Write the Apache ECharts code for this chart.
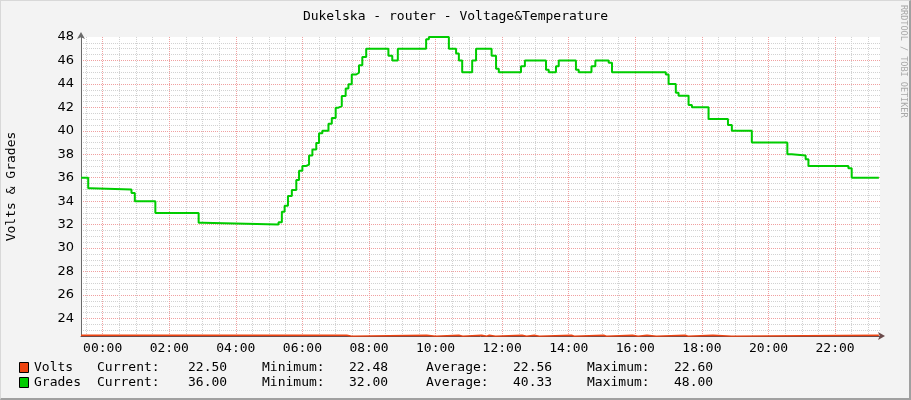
<!DOCTYPE html>
<html>
<head>
<meta charset="utf-8">
<script src="https://cdn.jsdelivr.net/npm/echarts@6/dist/echarts.min.js"></script>
<style>
  html, body { margin: 0; padding: 0; background: #f3f3f3; }
  #wrap { position: relative; width: 911px; height: 400px; }
  #chart { position: absolute; left: 0; top: 0; width: 911px; height: 400px; }
  #frame { position: absolute; left: 0; top: 0; width: 911px; height: 400px; box-sizing: border-box;
           border-top: 1px solid #d8d8d8; border-left: 1px solid #d8d8d8;
           border-right: 2px solid #a0a0a0; border-bottom: 2px solid #a0a0a0; pointer-events: none; }
</style>
</head>
<body>
<div id="wrap"><div id="chart"></div><div id="frame"></div></div>
<script>
// ---- data (minutes from midnight; negative = previous evening) ----
const gradesTime = [-39,-26,-22,52,58,95,173,180,317,323,328,334,341,349,354,360,367,372,378,385,390,396,407,413,420,425,431,438,443,449,457,462,468,475,515,522,532,583,588,624,637,642,648,666,673,701,709,714,754,761,799,804,817,822,853,858,881,888,912,918,1015,1020,1033,1038,1056,1062,1092,1127,1134,1170,1234,1242,1267,1272,1344,1350,1399];
const gradesValue = [36,35.1,35,34.7,34,33,32.15,32,32.2,33.1,33.6,34.45,34.95,35.8,36.6,37,37.12,37.9,38.4,38.96,39.8,40,40.6,41.1,41.97,42.1,42.96,43.6,43.96,44.8,44.95,45.6,46.3,47,46.4,46,47,47.8,48,47,46.6,46,45,46,47,46.4,45.3,45,45.5,46,45.2,45,45.5,46,45.2,45,45.5,46,45.8,45,44.8,44,43.25,43,42.2,42,41,40.5,40,39,38,37.9,37.57,37,36.8,36,36];
const voltsTime = [-39,440,449,584,600,642,649,683,692,697,708,756,764,778,787,845,850,903,908,955,965,981,998,1050,1055,1100,1134,1399];
const voltsValue = [22.56,22.48,22.56,22.48,22.56,22.48,22.56,22.48,22.56,22.48,22.56,22.48,22.56,22.48,22.56,22.48,22.56,22.48,22.56,22.48,22.56,22.48,22.56,22.48,22.56,22.48,22.56,22.5];

const seriesNames = ['Volts', 'Grades'];
const seriesColors = ['#ee4411', '#00cc00'];
const statLabels = ['Current:', 'Minimum:', 'Average:', 'Maximum:'];
const voltsStats = ['22.50', '22.48', '22.56', '22.60'];
const gradesStats = ['36.00', '32.00', '40.33', '48.00'];

const xMin = -39, xMax = 1401;
const yMin = 22.5, yMax = 48;

const FONT = "'DejaVu Sans Mono', monospace";
const chart = echarts.init(document.getElementById('chart'), null, { renderer: 'canvas' });

function pad(n) { return (n < 10 ? '0' : '') + n; }
function timeLabel(v) {
  if (Math.abs(v % 120) > 1e-6) return '';
  const h = ((Math.round(v / 60) % 24) + 24) % 24;
  return pad(h) + ':00';
}

// legend block built from arrays
const legendGraphics = [];
const statsRows = [voltsStats, gradesStats];
const labelX = [97, 262, 426, 587];
const valueX = [188, 349, 513, 674];
seriesNames.forEach(function (name, r) {
  const cy = 368 + r * 15;
  legendGraphics.push({ type: 'rect', shape: { x: 19.5, y: cy - 5.5, width: 9, height: 10 },
    style: { fill: seriesColors[r], stroke: '#000', lineWidth: 1 } });
  legendGraphics.push({ type: 'text', x: 34, y: cy, style: { text: name, font: '13px ' + FONT, fill: '#000', verticalAlign: 'middle' } });
  statLabels.forEach(function (lab, c) {
    legendGraphics.push({ type: 'text', x: labelX[c], y: cy, style: { text: lab, font: '13px ' + FONT, fill: '#000', verticalAlign: 'middle' } });
    legendGraphics.push({ type: 'text', x: valueX[c], y: cy, style: { text: statsRows[r][c], font: '13px ' + FONT, fill: '#000', verticalAlign: 'middle' } });
  });
});
legendGraphics.push({ type: 'text', x: 903, y: 5, rotation: -Math.PI / 2,
  style: { text: 'RRDTOOL / TOBI OETIKER', font: '8.5px ' + FONT, fill: '#a8a8a8', align: 'left', verticalAlign: 'middle' } });

const option = {
  animation: false,
  backgroundColor: 'transparent',
  title: {
    text: 'Dukelska - router - Voltage&Temperature',
    left: 'center', top: 5,
    textStyle: { fontFamily: FONT, fontSize: 13, fontWeight: 'normal', color: '#000' }
  },
  grid: { left: 81, right: 31, top: 37, height: 299, show: true, backgroundColor: '#ffffff', borderWidth: 0,
    containLabel: false, outerBoundsMode: 'none' },
  xAxis: [
    { type: 'value', min: xMin, max: xMax, minInterval: 30, maxInterval: 30, splitNumber: 48, position: 'top',
      axisLine: { show: false }, axisTick: { show: false }, axisLabel: { show: false },
      splitLine: { show: true, showMinLine: false, showMaxLine: false, lineStyle: { color: '#d2d2d2', width: 1, type: [1, 1] } } },
    { type: 'value', min: xMin, max: xMax, minInterval: 120, maxInterval: 120, splitNumber: 12, position: 'bottom',
      axisLine: { show: true, onZero: false, symbol: ['none', 'arrow'], symbolSize: [6, 7], symbolOffset: [0, 5],
        lineStyle: { color: '#6a4a4a', width: 1 } },
      axisTick: { show: false },
      axisLabel: { formatter: timeLabel, fontFamily: FONT, fontSize: 13, color: '#000', margin: 6 },
      splitLine: { show: true, showMinLine: false, showMaxLine: false, lineStyle: { color: '#f0a0a0', width: 1, type: [1, 1] } } }
  ],
  yAxis: [
    { type: 'value', min: yMin, max: yMax, interval: 0.5, position: 'right',
      axisLine: { show: false }, axisTick: { show: false }, axisLabel: { show: false },
      splitLine: { show: true, showMinLine: false, showMaxLine: false, lineStyle: { color: '#d2d2d2', width: 1, type: [1, 1] } } },
    { type: 'value', min: yMin, max: yMax, minInterval: 2, maxInterval: 2, splitNumber: 13, position: 'left',
      name: 'Volts & Grades', nameLocation: 'middle', nameGap: 63, nameRotate: 90,
      nameTextStyle: { fontFamily: FONT, fontSize: 13, color: '#000' },
      axisLine: { show: true, onZero: false, symbol: ['none', 'arrow'], symbolSize: [6, 7], symbolOffset: [0, 5],
        lineStyle: { color: '#6a6a6a', width: 1 } },
      axisTick: { show: false },
      axisLabel: { formatter: function (v) { return Math.abs(v % 2) < 1e-6 ? String(v) : ''; },
        fontFamily: "'DejaVu Sans', sans-serif", fontSize: 13, color: '#000', margin: 7 },
      splitLine: { show: true, showMinLine: false, showMaxLine: false, lineStyle: { color: '#f0a0a0', width: 1, type: [1, 1] } } }
  ],
  series: [
    { name: seriesNames[0], type: 'line', xAxisIndex: 1, yAxisIndex: 1, step: 'end', showSymbol: false, symbol: 'none',
      data: voltsTime.map(function (t, i) { return [t, voltsValue[i]]; }),
      lineStyle: { color: seriesColors[0], width: 1.5 }, z: 3 },
    { name: seriesNames[1], type: 'line', xAxisIndex: 1, yAxisIndex: 1, step: 'end', showSymbol: false, symbol: 'none',
      data: gradesTime.map(function (t, i) { return [t, gradesValue[i]]; }),
      lineStyle: { color: seriesColors[1], width: 2 }, z: 4 }
  ],
  graphic: legendGraphics
};
chart.setOption(option);
</script>
</body>
</html>
